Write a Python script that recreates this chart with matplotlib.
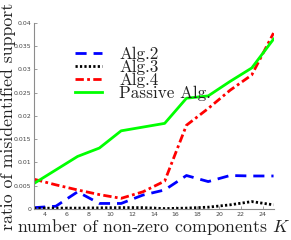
import matplotlib
matplotlib.use("Agg")
import matplotlib.pyplot as plt

K = [3, 5, 7, 9, 11, 13, 15, 17, 19, 21, 23, 25]
alg2 = [0.0003, 0.0006, 0.0037, 0.0012, 0.0012, 0.0030, 0.0041, 0.0072, 0.0059, 0.0072, 0.0071, 0.0071]
alg3 = [0.00015, 0.0002, 0.0002, 0.00025, 0.0003, 0.0003, 0.0001, 0.0002, 0.0004, 0.0009, 0.0016, 0.0009]
alg4 = [0.0064, 0.0052, 0.0041, 0.0031, 0.0023, 0.0037, 0.0060, 0.0180, 0.0216, 0.0255, 0.0288, 0.0378]
passive = [0.0055, 0.0084, 0.0113, 0.0131, 0.0168, 0.0176, 0.0184, 0.0238, 0.0243, 0.0274, 0.0303, 0.0365]
xticks = [4, 6, 8, 10, 12, 14, 16, 18, 20, 22, 24]
yticks = [0, 0.005, 0.01, 0.015, 0.02, 0.025, 0.03, 0.035, 0.04]
ytick_labels = ["0", "0.005", "0.01", "0.015", "0.02", "0.025", "0.03", "0.035", "0.04"]

plt.rcParams['mathtext.fontset'] = 'cm'

fig = plt.figure(figsize=(2.91, 2.40), dpi=100)
ax = fig.add_axes([0.117, 0.129, 0.823, 0.776])
lw = 2.0
ax.plot(K, alg2, color=(0, 0, 1), lw=lw, linestyle=(0, (4, 2.5)), label="Alg.2")
ax.plot(K, alg3, color='k', lw=lw, linestyle=(0, (0.8, 0.8)), label="Alg.3")
ax.plot(K, alg4, color=(1, 0, 0), lw=lw, linestyle=(0, (3, 1.2, 1, 1.2)), label="Alg.4")
ax.plot(K, passive, color=(0, 1, 0), lw=lw, linestyle='-', label="Passive Alg.")

ax.set_xlim(3, 25)
ax.set_ylim(0, 0.04)
ax.set_xticks(xticks)
ax.set_yticks(yticks)
ax.set_yticklabels(ytick_labels)
for s in ['top', 'right']:
    ax.spines[s].set_visible(False)
for s in ['left', 'bottom']:
    ax.spines[s].set_color('#8c8c8c')
    ax.spines[s].set_linewidth(0.8)
ax.tick_params(direction='in', length=2.5, width=0.6, colors='#8c8c8c',
               labelsize=4.5, labelcolor='#444444', pad=2)

ax.set_xlabel("number of non-zero components $K$", family='cmr10', fontsize=12.8,
              color='#222222', labelpad=0)
ax.set_ylabel("ratio of misidentified support", family='cmr10', fontsize=12.8,
              color='#222222', labelpad=-2)

leg = ax.legend(loc='upper left', bbox_to_anchor=(0.134, 0.918), frameon=False,
                prop={'family': 'cmr10', 'size': 12.3}, handlelength=1.6,
                labelspacing=-0.13, handletextpad=1.0, borderpad=0)
for t in leg.get_texts():
    t.set_color('#222222')

fig.savefig("out.png", dpi=100)
